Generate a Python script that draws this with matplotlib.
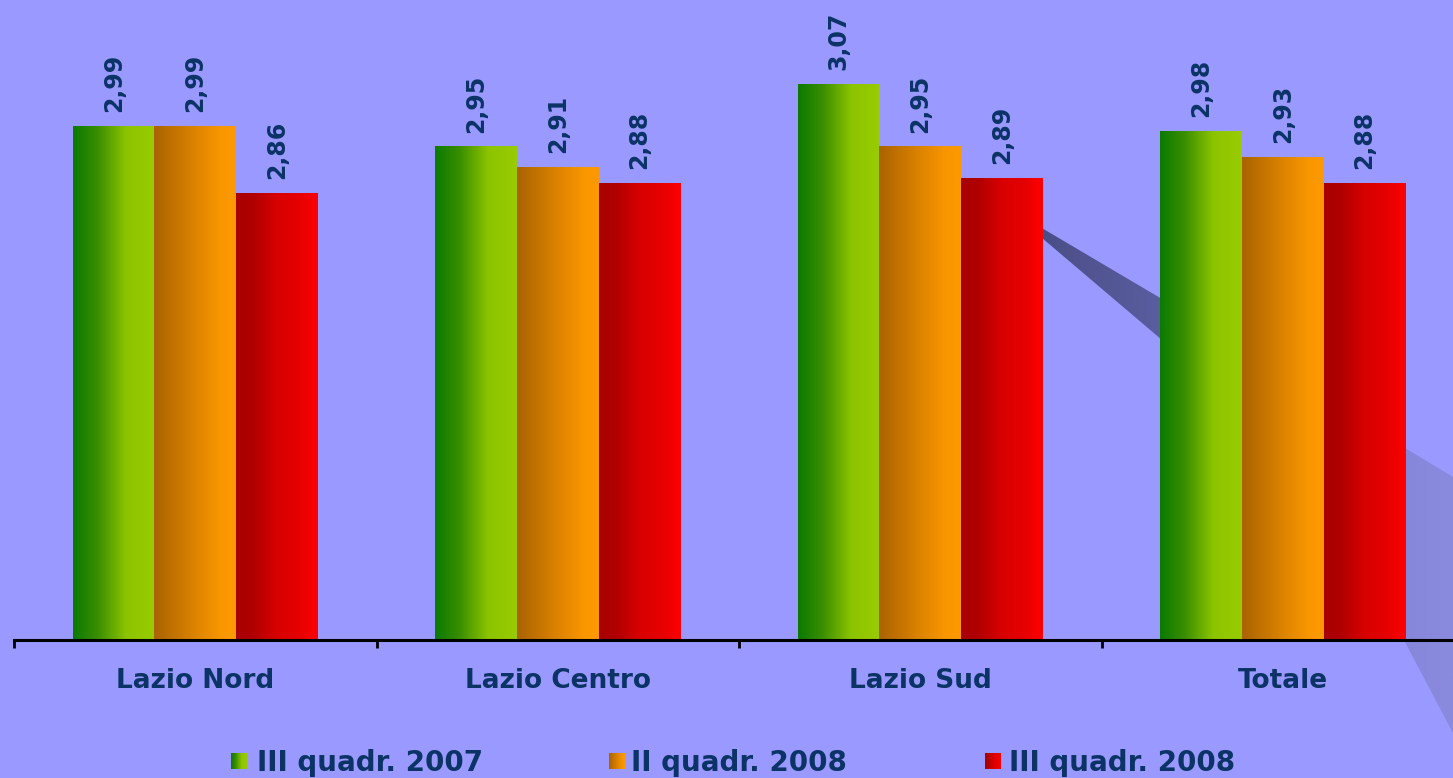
import numpy as np
import matplotlib
matplotlib.use('Agg')
import matplotlib.pyplot as plt
from matplotlib.colors import LinearSegmentedColormap
from matplotlib.patches import Polygon

# data
categories = ['Lazio Nord', 'Lazio Centro', 'Lazio Sud', 'Totale']
series = ['III quadr. 2007', 'II quadr. 2008', 'III quadr. 2008']
q3_2007 = [2.99, 2.95, 3.07, 2.98]
q2_2008 = [2.99, 2.91, 2.95, 2.93]
q3_2008 = [2.86, 2.88, 2.89, 2.88]

BG = '#9999FF'
TXT = '#0B3366'
W, H = 1453, 778

cmaps = [
    LinearSegmentedColormap.from_list('g', [(0, '#0A7A00'), (0.3, '#3A8E00'), (0.65, '#8CC400'), (1, '#99CC00')]),
    LinearSegmentedColormap.from_list('o', [(0, '#AA6300'), (0.45, '#D88000'), (0.8, '#F89600'), (1, '#FF9900')]),
    LinearSegmentedColormap.from_list('r', [(0, '#A80000'), (0.2, '#B00000'), (0.5, '#D80000'), (0.8, '#E80000'), (1, '#FF0000')]),
]
grad = np.linspace(0, 1, 256).reshape(1, -1)

fig = plt.figure(figsize=(W / 100, H / 100), dpi=100, facecolor=BG)

# decorative shadow ribbon behind the chart (pixel coords)
bg = fig.add_axes([0, 0, 1, 1], zorder=-1)
bg.set_xlim(0, W)
bg.set_ylim(H, 0)
bg.axis('off')
ribbon = Polygon([(1035, 224), (1162, 299), (1405, 448), (1453, 477),
                  (1453, 733), (1405, 642), (1162, 340), (1035, 232)],
                 closed=True, facecolor='none', edgecolor='none')
bg.add_patch(ribbon)
rib_cmap = LinearSegmentedColormap.from_list('rib', [(0, '#494D86'), (0.304, '#5B5E9F'),
                                                    (0.7, '#8080D4'), (1, '#8A8ADE')])
im = bg.imshow(grad, cmap=rib_cmap, extent=(1035, 1453, 733, 224), aspect='auto')
im.set_clip_path(ribbon)
bg.set_xlim(0, W)
bg.set_ylim(H, 0)

ax = fig.add_axes([14 / W, 138 / H, 1450 / W, 640 / H])
ax.patch.set_alpha(0)

x = np.arange(len(categories))
bw = 0.225
for k, vals in enumerate([q3_2007, q2_2008, q3_2008]):
    bars = ax.bar(x + (k - 1) * bw, vals, bw, bottom=0, color='none', edgecolor='none')
    for b, v in zip(bars, vals):
        x0, x1 = b.get_x(), b.get_x() + b.get_width()
        g = ax.imshow(grad, cmap=cmaps[k], extent=(x0, x1, 2, v), aspect='auto', zorder=2)
        g.set_clip_path(b)
        ax.annotate(('%.2f' % v).replace('.', ','), (b.get_x() + b.get_width() / 2, v),
                    xytext=(0, 10), textcoords='offset points', rotation=90,
                    ha='center', va='bottom', color=TXT, fontsize=17, fontweight='bold')

ax.set_xlim(-0.5, len(categories) - 0.5)
ax.set_ylim(2, 3.232)

for s in ['left', 'top', 'right']:
    ax.spines[s].set_visible(False)
ax.spines['bottom'].set_linewidth(2.2)
ax.set_yticks([])
ax.set_xticks(np.arange(len(categories) + 1) - 0.5)
ax.set_xticklabels([])
ax.tick_params(axis='x', which='major', length=6, width=2, direction='out')
ax.set_xticks(x, minor=True)
ax.set_xticklabels(categories, minor=True, fontsize=19, fontweight='bold', color=TXT)
ax.tick_params(axis='x', which='minor', length=0, pad=20)

# legend at the bottom
leg_marker_x = [231, 609, 985]
leg_text_x = [257, 631, 1009]
for k, name in enumerate(series):
    m = fig.add_axes([leg_marker_x[k] / W, (H - 769) / H, 16 / W, 16 / H])
    m.imshow(grad, cmap=cmaps[k], aspect='auto')
    m.axis('off')
    fig.text(leg_text_x[k] / W, 1 / H, name, fontsize=20, fontweight='bold',
             color=TXT, ha='left', va='bottom')

fig.savefig('out.png', dpi=100, facecolor=fig.get_facecolor())
